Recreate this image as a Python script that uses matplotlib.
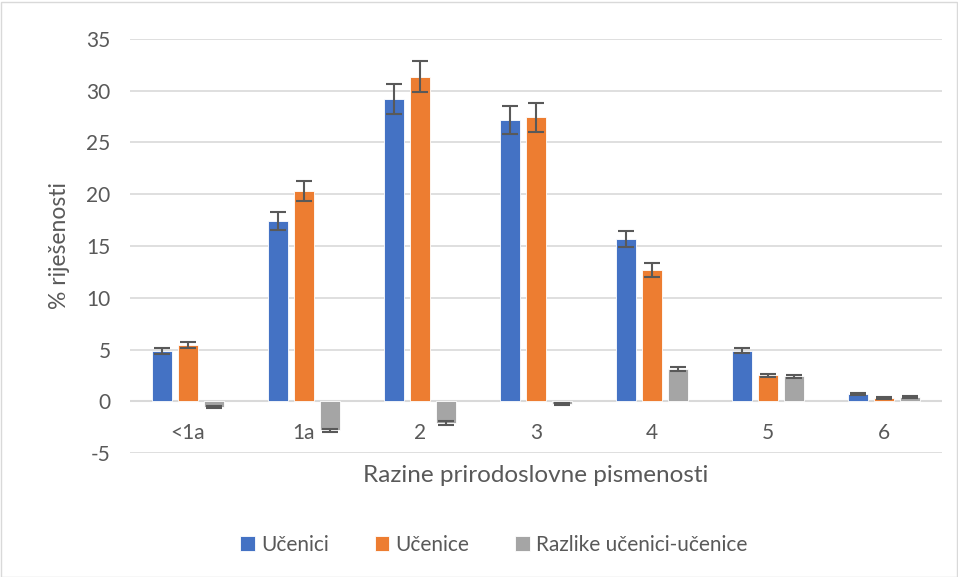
import numpy as np
import matplotlib.pyplot as plt

plt.rcParams['font.family'] = ['Lato', 'DejaVu Sans']
plt.rcParams['axes.unicode_minus'] = False

razine = ['<1a', '1a', '2', '3', '4', '5', '6']
ucenici = [4.85, 17.4, 29.25, 27.15, 15.7, 4.9, 0.7]
ucenice = [5.45, 20.3, 31.35, 27.45, 12.7, 2.5, 0.3]
razlike = [-0.6, -2.8, -2.1, -0.3, 3.1, 2.4, 0.4]
err_ucenici = [0.3, 0.85, 1.45, 1.35, 0.75, 0.25, 0.1]
err_ucenice = [0.3, 1.0, 1.5, 1.4, 0.65, 0.15, 0.1]
err_razlike = [0.1, 0.15, 0.15, 0.1, 0.2, 0.15, 0.1]

fig = plt.figure(figsize=(9.58, 5.77), dpi=100)
ax = fig.add_axes([130 / 958, 1 - 453 / 577, 812 / 958, 414 / 577])

x = np.arange(len(razine))
w = 0.172
step = 0.224
ekw = dict(ecolor='#595959', elinewidth=1.5, capsize=6, capthick=1.5)
series = [
    (ucenici, err_ucenici, '#4472C4', 'Učenici'),
    (ucenice, err_ucenice, '#ED7D31', 'Učenice'),
    (razlike, err_razlike, '#A5A5A5', 'Razlike učenici-učenice'),
]
for i, (vals, errs, col, lab) in enumerate(series):
    ax.bar(x + (i - 1) * step, vals, w, yerr=errs, color=col, label=lab,
           edgecolor='white', linewidth=0.6, error_kw=ekw, zorder=3)

ax.set_xlim(-0.5, len(razine) - 0.5)
ax.set_ylim(-5, 35)
ax.set_yticks(range(-5, 36, 5))
ax.set_xticks([])
ax.grid(axis='y', color='#D9D9D9', linewidth=1.2, zorder=0)
ax.axhline(0, color='#D9D9D9', linewidth=1.5, zorder=2)
for s in ax.spines.values():
    s.set_visible(False)
ax.tick_params(axis='both', length=0, labelsize=15, colors='#595959')
ax.tick_params(axis='y', pad=14)
# category labels sit just below the zero line, Excel style
for xi, name in zip(x, razine):
    ax.text(xi, -3.1, name, ha='center', va='center', fontsize=15, color='#595959')

ax.set_ylabel('% riješenosti', fontsize=16.5, color='#595959', labelpad=12)
fig.text(ax.get_position().x0 + ax.get_position().width / 2, 1 - 475 / 577,
         'Razine prirodoslovne pismenosti', ha='center', va='center',
         fontsize=17.5, color='#595959')

fig.legend(loc='center', bbox_to_anchor=(494 / 958, 1 - 545 / 577), ncol=3,
           frameon=False, fontsize=15, handlelength=0.7, handleheight=0.7,
           columnspacing=2.2, handletextpad=0.3, labelcolor='#595959')

fig.patches.append(plt.Rectangle((0.5 / 958, 0.5 / 577), 956 / 958, 575 / 577,
                                 transform=fig.transFigure, fill=False,
                                 edgecolor='#D9D9D9', linewidth=1))

fig.savefig('out.png', dpi=100)
